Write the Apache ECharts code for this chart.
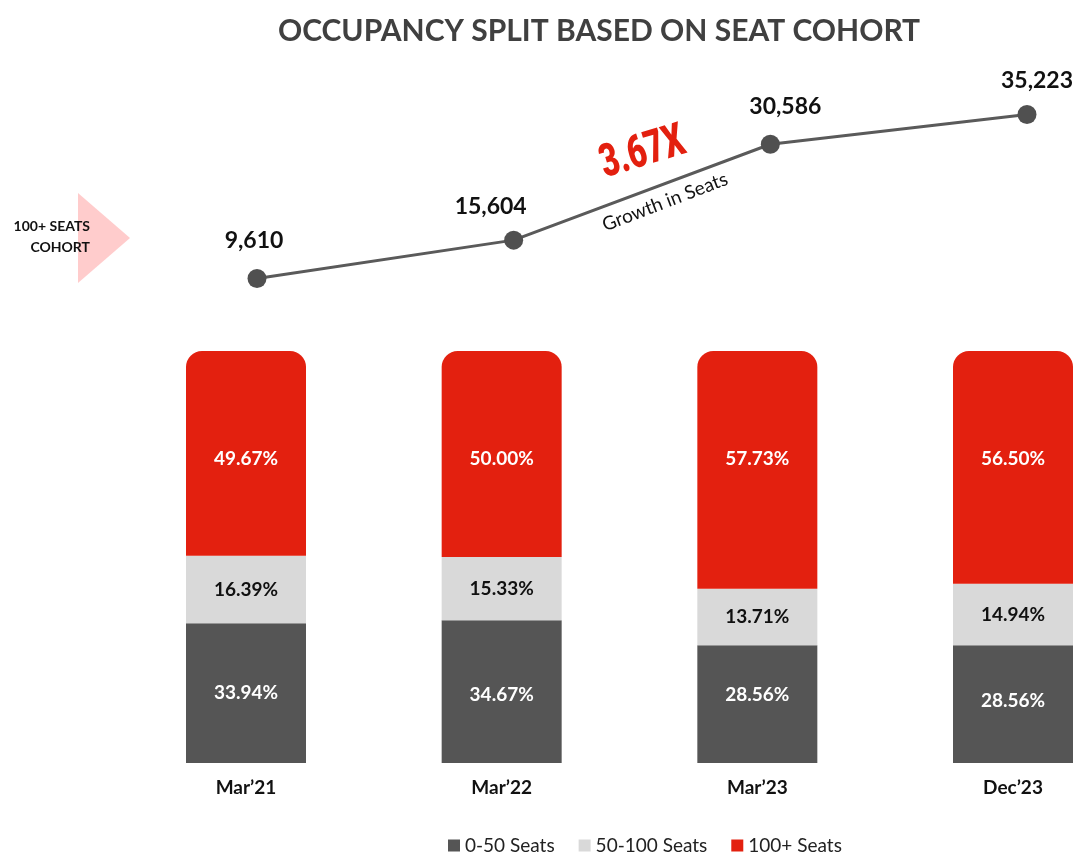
<!DOCTYPE html>
<html>
<head>
<meta charset="utf-8">
<script src="https://cdn.jsdelivr.net/npm/echarts@6/dist/echarts.min.js"></script>
<style>
  html, body { margin: 0; padding: 0; background: #fff; }
  #chart { width: 1076px; height: 854px; }
</style>
</head>
<body>
<div id="chart"></div>
<script>
// Periods shown along the bottom
const periods = ['Mar\u201921', 'Mar\u201922', 'Mar\u201923', 'Dec\u201923'];
// Seats in the 100+ cohort
const seats100Plus = [9610, 15604, 30586, 35223];
// Occupancy split (%) by seat cohort
const share0to50 = [33.94, 34.67, 28.56, 28.56];
const share50to100 = [16.39, 15.33, 13.71, 14.94];
const share100Plus = [49.67, 50.00, 57.73, 56.50];
const seriesNames = ['0-50 Seats', '50-100 Seats', '100+ Seats'];

const RED = '#e3200f';
const DARK = '#555555';
const LIGHT = '#d9d9d9';
const FONT = 'Lato, "Open Sans", sans-serif';

// label nudges (px) for the seat-count labels and the dark segment labels
const seatLabelOffsets = [[-3, 0], [-23, 4], [15, 0], [10, 4]];
const darkLabelOffsets = [[0, 0], [0, 3], [0, -9], [0, -3]];

const chart = echarts.init(document.getElementById('chart'));

const pct = v => v.toFixed(2) + '%';
const segLabel = color => ({
  show: true, formatter: p => pct(p.value),
  fontFamily: FONT, fontSize: 19, fontWeight: 'bold', color: color
});

chart.setOption({
  backgroundColor: '#ffffff',
  animation: false,
  textStyle: { fontFamily: FONT },
  title: {
    text: 'OCCUPANCY SPLIT BASED ON SEAT COHORT',
    left: 594, top: 11, textAlign: 'center',
    textStyle: { fontFamily: FONT, fontSize: 30, fontWeight: 'bold', color: '#404040' }
  },
  legend: {
    data: seriesNames,
    left: 448, top: 836, padding: 0,
    icon: 'rect', itemWidth: 12, itemHeight: 12, itemGap: 24,
    textStyle: { fontFamily: FONT, fontSize: 19, color: '#222' }
  },
  grid: [
    { left: 257, width: 770, top: 84, height: 256 },
    { left: 246, width: 767, top: 351, height: 412 }
  ],
  xAxis: [
    { gridIndex: 0, type: 'category', data: periods, boundaryGap: false, show: false },
    {
      gridIndex: 1, type: 'category', data: periods, boundaryGap: false,
      axisLine: { show: false }, axisTick: { show: false },
      axisLabel: { margin: 15, fontFamily: FONT, fontSize: 19, fontWeight: 'bold', color: '#111' }
    }
  ],
  yAxis: [
    { gridIndex: 0, type: 'value', min: 0, max: 40000, show: false },
    { gridIndex: 1, type: 'value', min: 0, max: 100, show: false }
  ],
  series: [
    {
      type: 'line', xAxisIndex: 0, yAxisIndex: 0,
      data: seats100Plus.map((v, i) => ({
        value: v,
        label: { offset: seatLabelOffsets[i] }
      })),
      symbol: 'circle', symbolSize: 19,
      lineStyle: { color: '#5a5a5a', width: 3 },
      itemStyle: { color: '#505050' },
      label: {
        show: true, position: 'top', distance: 17,
        fontFamily: FONT, fontSize: 23, fontWeight: 'bold', color: '#111',
        formatter: p => p.value.toLocaleString('en-US')
      },
      z: 5
    },
    {
      name: seriesNames[0], type: 'bar', stack: 'occ', xAxisIndex: 1, yAxisIndex: 1,
      barWidth: 120, clip: false,
      data: share0to50.map((v, i) => ({ value: v, label: { offset: darkLabelOffsets[i] } })),
      itemStyle: { color: DARK },
      label: Object.assign(segLabel('#ffffff'), { position: 'inside' })
    },
    {
      name: seriesNames[1], type: 'bar', stack: 'occ', xAxisIndex: 1, yAxisIndex: 1,
      barWidth: 120, clip: false, data: share50to100,
      itemStyle: { color: LIGHT },
      label: Object.assign(segLabel('#111111'), { position: 'inside' })
    },
    {
      name: seriesNames[2], type: 'bar', stack: 'occ', xAxisIndex: 1, yAxisIndex: 1,
      barWidth: 120, clip: false, data: share100Plus,
      itemStyle: { color: RED, borderRadius: [16, 16, 0, 0] },
      label: Object.assign(segLabel('#ffffff'), {
        position: ['50%', 108], align: 'center', verticalAlign: 'middle'
      })
    }
  ],
  graphic: [
    {
      type: 'polygon', z: 1,
      shape: { points: [[78, 193], [130, 238], [78, 283]] },
      style: { fill: '#ffc6c6', opacity: 0.9 }
    },
    {
      type: 'text', z: 2, x: 90, y: 226,
      style: { text: '100+ SEATS', align: 'right', verticalAlign: 'middle',
        font: 'bold 14px ' + FONT, fill: '#111' }
    },
    {
      type: 'text', z: 2, x: 90, y: 247,
      style: { text: 'COHORT', align: 'right', verticalAlign: 'middle',
        font: 'bold 14px ' + FONT, fill: '#111' }
    },
    {
      type: 'text', z: 10, x: 643, y: 154, rotation: 17 * Math.PI / 180, scaleX: 0.7,
      style: { text: '3.67X', align: 'center', verticalAlign: 'middle',
        font: '900 46px Roboto, Lato, sans-serif', fill: RED }
    },
    {
      type: 'text', z: 10, x: 665, y: 202, rotation: 21 * Math.PI / 180,
      style: { text: 'Growth in Seats', align: 'center', verticalAlign: 'middle',
        font: '19px ' + FONT, fill: '#111' }
    }
  ]
});
</script>
</body>
</html>
